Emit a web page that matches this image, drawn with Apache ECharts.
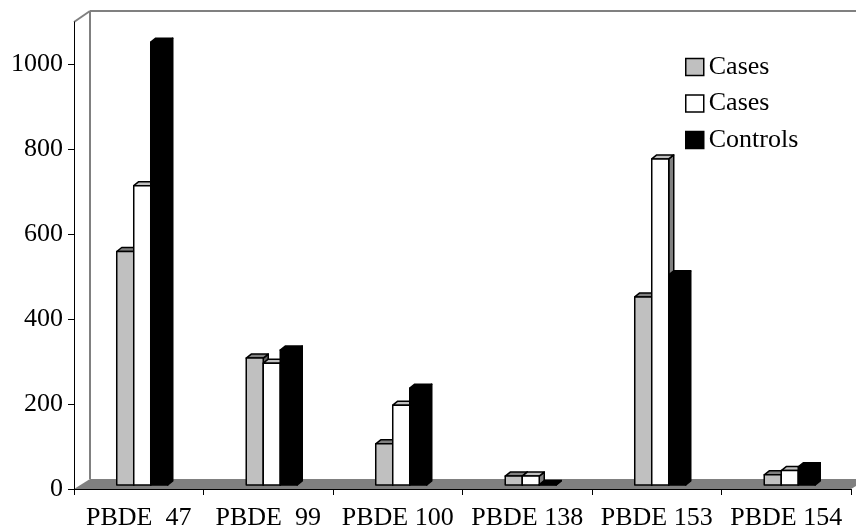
<!DOCTYPE html>
<html>
<head>
<meta charset="utf-8">
<script src="https://cdn.jsdelivr.net/npm/echarts@6/dist/echarts.min.js"></script>
<style>
html,body{margin:0;padding:0;background:#fff;}
#chart{width:856px;height:529px;}
</style>
</head>
<body>
<div id="chart"></div>
<script>
const categories = ['PBDE  47', 'PBDE  99', 'PBDE 100', 'PBDE 138', 'PBDE 153', 'PBDE 154'];
const casesA = [550, 299, 97, 21, 443, 24];
const casesB = [705, 287, 188, 21, 768, 34];
const controls = [1043, 318, 228, 1, 495, 43];
const yTicks = [0, 200, 400, 600, 800, 1000];

const FONT = 'Liberation Serif';
const DX = 5, DY = 4;        // bar depth offset
const WDX = 16, WDY = 10;    // wall/floor depth

const seriesDefs = [
  { name: 'Cases', data: casesA, front: '#c0c0c0', top: '#808080', side: '#606060' },
  { name: 'Cases ', data: casesB, front: '#ffffff', top: '#c0c0c0', side: '#808080' },
  { name: 'Controls', data: controls, front: '#000000', top: '#000000', side: '#000000' }
];

function makeBarRenderer(idx, def) {
  return function (params, api) {
    const ci = api.value(0);
    const v = api.value(1);
    const base = api.coord([ci, 0]);
    const topPt = api.coord([ci, v]);
    const W = api.size([1, 0])[0];
    const bw = W * 0.1313;
    const cx = base[0];
    const left = cx - 1.5 * bw + W * 0.027 + idx * bw;
    const right = left + bw;
    const yb = base[1] - DY;
    const yt = topPt[1] - DY;
    const st = { stroke: '#000', lineWidth: 1.5, lineJoin: 'round' };
    return {
      type: 'group',
      children: [
        { type: 'polygon', shape: { points: [[right, yt], [right + DX, yt - DY], [right + DX, yb - DY], [right, yb]] },
          style: Object.assign({ fill: def.side }, st) },
        { type: 'polygon', shape: { points: [[left, yt], [right, yt], [right + DX, yt - DY], [left + DX, yt - DY]] },
          style: Object.assign({ fill: def.top }, st) },
        { type: 'rect', shape: { x: left, y: yt, width: bw, height: yb - yt },
          style: Object.assign({ fill: def.front }, st) }
      ]
    };
  };
}

const series = [{
  type: 'custom',
  name: '__bg',
  silent: true,
  z: 0,
  data: [[0, 0]],
  renderItem: function (params, api) {
    const r = params.coordSys;
    const x = r.x, y = r.y, w = r.width, h = r.height;
    const gray = '#808080';
    return {
      type: 'group',
      children: [
        { type: 'polygon', shape: { points: [[x, y + h], [x + WDX, y + h - WDY], [x + w + WDX, y + h - WDY], [x + w, y + h]] },
          style: { fill: gray } },
        { type: 'line', shape: { x1: x + WDX, y1: y - 11, x2: x + WDX, y2: y + h - WDY }, style: { stroke: gray, lineWidth: 2 } },
        { type: 'line', shape: { x1: x + WDX, y1: y - 11, x2: x + w + 30, y2: y - 11 }, style: { stroke: gray, lineWidth: 2 } },
        { type: 'line', shape: { x1: x, y1: y, x2: x + WDX, y2: y - 11 }, style: { stroke: gray, lineWidth: 2 } }
      ]
    };
  }
}];

seriesDefs.forEach(function (def, i) {
  series.push({
    type: 'custom',
    name: def.name,
    z: 2 + i,
    itemStyle: { color: def.front, borderColor: '#000', borderWidth: 1.5 },
    data: def.data.map(function (v, k) { return [k, v]; }),
    renderItem: makeBarRenderer(i, def)
  });
});

const chart = echarts.init(document.getElementById('chart'), null, { renderer: 'canvas' });
chart.setOption({
  animation: false,
  backgroundColor: '#fff',
  grid: { left: 74, right: 5, top: 22, bottom: 40, containLabel: false, outerBoundsMode: 'none' },
  legend: {
    data: seriesDefs.map(function (d) { return d.name; }),
    orient: 'vertical',
    left: 685,
    top: 54,
    padding: 0,
    icon: 'rect',
    itemWidth: 18,
    itemHeight: 17,
    itemGap: 10.5,
    itemStyle: { borderColor: '#000', borderWidth: 1.5 },
    textStyle: { fontFamily: FONT, fontSize: 26, color: '#000', lineHeight: 26 }
  },
  xAxis: {
    type: 'category',
    data: categories,
    boundaryGap: true,
    axisLine: { show: true, lineStyle: { color: '#000', width: 1 } },
    axisTick: { show: true, length: 6, lineStyle: { color: '#000' } },
    axisLabel: { fontFamily: FONT, fontSize: 26, color: '#000', margin: 16, interval: 0 },
    splitLine: { show: false }
  },
  yAxis: {
    type: 'value',
    min: 0,
    max: 1100,
    interval: 100,
    axisLine: { show: true, lineStyle: { color: '#000', width: 1 } },
    axisTick: { show: true, length: 6, lineStyle: { color: '#000' }, customValues: yTicks },
    axisLabel: { fontFamily: FONT, fontSize: 26, color: '#000', margin: 11, customValues: yTicks,
      formatter: function (v) { return String(v); } },
    splitLine: { show: false }
  },
  series: series
});
</script>
</body>
</html>
